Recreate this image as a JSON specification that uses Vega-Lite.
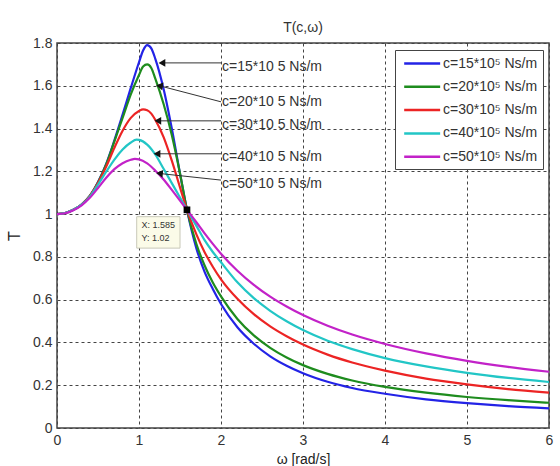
{
  "$schema": "https://vega.github.io/schema/vega-lite/v6.json",
  "width": 492,
  "height": 385,
  "autosize": {"type": "none"},
  "padding": {"left": 57, "top": 43, "right": 11, "bottom": 38},
  "background": "white",
  "title": {"text": "T(c,ω)", "fontSize": 14, "fontWeight": "normal", "color": "#333", "offset": 1, "font": "Liberation Sans"},
  "config": {
    "font": "Liberation Sans",
    "view": {"stroke": "#444", "strokeWidth": 1.5},
    "axis": {
      "domain": false,
      "tickSize": 0,
      "labelFontSize": 14,
      "labelColor": "#333",
      "labelPadding": 5,
      "labelFlush": false,
      "titleFontSize": 14,
      "titleFontWeight": "normal",
      "titleColor": "#222",
      "grid": true,
      "gridDash": [3, 3],
      "gridColor": "#444",
      "gridWidth": 1
    }
  },
  "datasets": {
    "curves": [
      {"c": 15, "omega": 0, "T": 1.0}, {"c": 15, "omega": 0.1, "T": 1.005}, {"c": 15, "omega": 0.2, "T": 1.02}, {"c": 15, "omega": 0.3, "T": 1.045},
      {"c": 15, "omega": 0.4, "T": 1.085}, {"c": 15, "omega": 0.5, "T": 1.15}, {"c": 15, "omega": 0.6, "T": 1.235}, {"c": 15, "omega": 0.7, "T": 1.345},
      {"c": 15, "omega": 0.8, "T": 1.465}, {"c": 15, "omega": 0.9, "T": 1.59}, {"c": 15, "omega": 1.0, "T": 1.71}, {"c": 15, "omega": 1.05, "T": 1.765},
      {"c": 15, "omega": 1.1, "T": 1.79}, {"c": 15, "omega": 1.15, "T": 1.775}, {"c": 15, "omega": 1.2, "T": 1.725}, {"c": 15, "omega": 1.3, "T": 1.585},
      {"c": 15, "omega": 1.4, "T": 1.4}, {"c": 15, "omega": 1.5, "T": 1.19}, {"c": 15, "omega": 1.585, "T": 1.02}, {"c": 15, "omega": 1.7, "T": 0.84},
      {"c": 15, "omega": 1.8, "T": 0.73}, {"c": 15, "omega": 1.9, "T": 0.65}, {"c": 15, "omega": 2.0, "T": 0.58}, {"c": 15, "omega": 2.2, "T": 0.471},
      {"c": 15, "omega": 2.4, "T": 0.394}, {"c": 15, "omega": 2.6, "T": 0.335}, {"c": 15, "omega": 2.8, "T": 0.291}, {"c": 15, "omega": 3.0, "T": 0.256},
      {"c": 15, "omega": 3.3, "T": 0.216}, {"c": 15, "omega": 3.6, "T": 0.187}, {"c": 15, "omega": 4.0, "T": 0.16}, {"c": 15, "omega": 4.5, "T": 0.134},
      {"c": 15, "omega": 5.0, "T": 0.116}, {"c": 15, "omega": 5.5, "T": 0.102}, {"c": 15, "omega": 6.0, "T": 0.092},

      {"c": 20, "omega": 0, "T": 1.0}, {"c": 20, "omega": 0.1, "T": 1.005}, {"c": 20, "omega": 0.2, "T": 1.02}, {"c": 20, "omega": 0.3, "T": 1.045},
      {"c": 20, "omega": 0.4, "T": 1.085}, {"c": 20, "omega": 0.5, "T": 1.148}, {"c": 20, "omega": 0.6, "T": 1.232}, {"c": 20, "omega": 0.7, "T": 1.34},
      {"c": 20, "omega": 0.8, "T": 1.45}, {"c": 20, "omega": 0.9, "T": 1.56}, {"c": 20, "omega": 1.0, "T": 1.65}, {"c": 20, "omega": 1.05, "T": 1.69},
      {"c": 20, "omega": 1.1, "T": 1.7}, {"c": 20, "omega": 1.15, "T": 1.683}, {"c": 20, "omega": 1.2, "T": 1.632}, {"c": 20, "omega": 1.3, "T": 1.515},
      {"c": 20, "omega": 1.4, "T": 1.37}, {"c": 20, "omega": 1.5, "T": 1.19}, {"c": 20, "omega": 1.585, "T": 1.02}, {"c": 20, "omega": 1.7, "T": 0.86},
      {"c": 20, "omega": 1.8, "T": 0.76}, {"c": 20, "omega": 1.9, "T": 0.68}, {"c": 20, "omega": 2.0, "T": 0.615}, {"c": 20, "omega": 2.2, "T": 0.51},
      {"c": 20, "omega": 2.4, "T": 0.433}, {"c": 20, "omega": 2.6, "T": 0.375}, {"c": 20, "omega": 2.8, "T": 0.33}, {"c": 20, "omega": 3.0, "T": 0.294},
      {"c": 20, "omega": 3.3, "T": 0.253}, {"c": 20, "omega": 3.6, "T": 0.222}, {"c": 20, "omega": 4.0, "T": 0.192}, {"c": 20, "omega": 4.5, "T": 0.165},
      {"c": 20, "omega": 5.0, "T": 0.145}, {"c": 20, "omega": 5.5, "T": 0.13}, {"c": 20, "omega": 6.0, "T": 0.118},

      {"c": 30, "omega": 0, "T": 1.0}, {"c": 30, "omega": 0.1, "T": 1.005}, {"c": 30, "omega": 0.2, "T": 1.02}, {"c": 30, "omega": 0.3, "T": 1.045},
      {"c": 30, "omega": 0.4, "T": 1.084}, {"c": 30, "omega": 0.5, "T": 1.145}, {"c": 30, "omega": 0.6, "T": 1.222}, {"c": 30, "omega": 0.7, "T": 1.31},
      {"c": 30, "omega": 0.8, "T": 1.39}, {"c": 30, "omega": 0.9, "T": 1.45}, {"c": 30, "omega": 1.0, "T": 1.482}, {"c": 30, "omega": 1.05, "T": 1.49},
      {"c": 30, "omega": 1.1, "T": 1.486}, {"c": 30, "omega": 1.15, "T": 1.47}, {"c": 30, "omega": 1.2, "T": 1.44}, {"c": 30, "omega": 1.3, "T": 1.36},
      {"c": 30, "omega": 1.4, "T": 1.25}, {"c": 30, "omega": 1.5, "T": 1.125}, {"c": 30, "omega": 1.585, "T": 1.02}, {"c": 30, "omega": 1.7, "T": 0.905},
      {"c": 30, "omega": 1.8, "T": 0.822}, {"c": 30, "omega": 1.9, "T": 0.754}, {"c": 30, "omega": 2.0, "T": 0.695}, {"c": 30, "omega": 2.2, "T": 0.604},
      {"c": 30, "omega": 2.4, "T": 0.532}, {"c": 30, "omega": 2.6, "T": 0.475}, {"c": 30, "omega": 2.8, "T": 0.429}, {"c": 30, "omega": 3.0, "T": 0.39},
      {"c": 30, "omega": 3.3, "T": 0.343}, {"c": 30, "omega": 3.6, "T": 0.306}, {"c": 30, "omega": 4.0, "T": 0.268}, {"c": 30, "omega": 4.5, "T": 0.231},
      {"c": 30, "omega": 5.0, "T": 0.204}, {"c": 30, "omega": 5.5, "T": 0.182}, {"c": 30, "omega": 6.0, "T": 0.165},

      {"c": 40, "omega": 0, "T": 1.0}, {"c": 40, "omega": 0.1, "T": 1.005}, {"c": 40, "omega": 0.2, "T": 1.02}, {"c": 40, "omega": 0.3, "T": 1.044},
      {"c": 40, "omega": 0.4, "T": 1.082}, {"c": 40, "omega": 0.5, "T": 1.138}, {"c": 40, "omega": 0.6, "T": 1.198}, {"c": 40, "omega": 0.7, "T": 1.255},
      {"c": 40, "omega": 0.8, "T": 1.302}, {"c": 40, "omega": 0.9, "T": 1.335}, {"c": 40, "omega": 0.97, "T": 1.348}, {"c": 40, "omega": 1.0, "T": 1.347},
      {"c": 40, "omega": 1.1, "T": 1.325}, {"c": 40, "omega": 1.2, "T": 1.278}, {"c": 40, "omega": 1.3, "T": 1.212}, {"c": 40, "omega": 1.4, "T": 1.145},
      {"c": 40, "omega": 1.5, "T": 1.078}, {"c": 40, "omega": 1.585, "T": 1.02}, {"c": 40, "omega": 1.7, "T": 0.945}, {"c": 40, "omega": 1.8, "T": 0.878},
      {"c": 40, "omega": 1.9, "T": 0.823}, {"c": 40, "omega": 2.0, "T": 0.775}, {"c": 40, "omega": 2.2, "T": 0.681}, {"c": 40, "omega": 2.4, "T": 0.607},
      {"c": 40, "omega": 2.6, "T": 0.548}, {"c": 40, "omega": 2.8, "T": 0.499}, {"c": 40, "omega": 3.0, "T": 0.458}, {"c": 40, "omega": 3.3, "T": 0.408},
      {"c": 40, "omega": 3.6, "T": 0.369}, {"c": 40, "omega": 4.0, "T": 0.327}, {"c": 40, "omega": 4.5, "T": 0.288}, {"c": 40, "omega": 5.0, "T": 0.258},
      {"c": 40, "omega": 5.5, "T": 0.234}, {"c": 40, "omega": 6.0, "T": 0.215},

      {"c": 50, "omega": 0, "T": 1.0}, {"c": 50, "omega": 0.1, "T": 1.004}, {"c": 50, "omega": 0.2, "T": 1.018}, {"c": 50, "omega": 0.3, "T": 1.041},
      {"c": 50, "omega": 0.4, "T": 1.076}, {"c": 50, "omega": 0.5, "T": 1.122}, {"c": 50, "omega": 0.6, "T": 1.17}, {"c": 50, "omega": 0.7, "T": 1.21},
      {"c": 50, "omega": 0.8, "T": 1.238}, {"c": 50, "omega": 0.9, "T": 1.254}, {"c": 50, "omega": 0.95, "T": 1.258}, {"c": 50, "omega": 1.0, "T": 1.256},
      {"c": 50, "omega": 1.1, "T": 1.237}, {"c": 50, "omega": 1.2, "T": 1.203}, {"c": 50, "omega": 1.3, "T": 1.162}, {"c": 50, "omega": 1.4, "T": 1.113},
      {"c": 50, "omega": 1.5, "T": 1.063}, {"c": 50, "omega": 1.585, "T": 1.02}, {"c": 50, "omega": 1.7, "T": 0.962}, {"c": 50, "omega": 1.8, "T": 0.91},
      {"c": 50, "omega": 1.9, "T": 0.861}, {"c": 50, "omega": 2.0, "T": 0.815}, {"c": 50, "omega": 2.2, "T": 0.735}, {"c": 50, "omega": 2.4, "T": 0.669},
      {"c": 50, "omega": 2.6, "T": 0.614}, {"c": 50, "omega": 2.8, "T": 0.568}, {"c": 50, "omega": 3.0, "T": 0.528}, {"c": 50, "omega": 3.3, "T": 0.478},
      {"c": 50, "omega": 3.6, "T": 0.437}, {"c": 50, "omega": 4.0, "T": 0.393}, {"c": 50, "omega": 4.5, "T": 0.349}, {"c": 50, "omega": 5.0, "T": 0.314},
      {"c": 50, "omega": 5.5, "T": 0.286}, {"c": 50, "omega": 6.0, "T": 0.263}
    ],
    "notes": [
      {"c": 15, "headW": 1.28, "headT": 1.707, "endW": 2.0, "endT": 1.707, "textT": 1.69, "label": "c=15*10 5 Ns/m"},
      {"c": 20, "headW": 1.25, "headT": 1.6, "endW": 2.0, "endT": 1.525, "textT": 1.525, "label": "c=20*10 5 Ns/m"},
      {"c": 30, "headW": 1.23, "headT": 1.436, "endW": 2.0, "endT": 1.436, "textT": 1.416, "label": "c=30*10 5 Ns/m"},
      {"c": 40, "headW": 1.22, "headT": 1.282, "endW": 2.0, "endT": 1.282, "textT": 1.268, "label": "c=40*10 5 Ns/m"},
      {"c": 50, "headW": 1.25, "headT": 1.19, "endW": 2.0, "endT": 1.159, "textT": 1.143, "label": "c=50*10 5 Ns/m"}
    ],
    "tip": [
      {"omega": 1.585, "T": 1.02, "boxW": 0.972, "boxW2": 1.5, "boxT": 0.841, "boxT2": 0.988}
    ],
    "tipText": [
      {"omega": 1.03, "T": 0.949, "line": "X: 1.585"},
      {"omega": 1.03, "T": 0.889, "line": "Y: 1.02"}
    ]
  },
  "layer": [
    {
      "data": {"name": "tip"},
      "mark": {"type": "rect", "fill": "#fbfbe8", "stroke": "#c8c8b8", "strokeWidth": 1},
      "encoding": {
        "x": {"field": "boxW", "type": "quantitative", "scale": {"domain": [0, 6], "nice": false}},
        "x2": {"field": "boxW2"},
        "y": {"field": "boxT", "type": "quantitative", "scale": {"domain": [0, 1.8], "nice": false}},
        "y2": {"field": "boxT2"}
      }
    },
    {
      "data": {"name": "curves"},
      "mark": {"type": "line", "interpolate": "monotone", "strokeWidth": 2.2},
      "encoding": {
        "x": {
          "field": "omega", "type": "quantitative",
          "scale": {"domain": [0, 6], "nice": false},
          "axis": {"title": "ω  [rad/s]", "values": [0, 1, 2, 3, 4, 5, 6], "format": "~g", "titlePadding": 5}
        },
        "y": {
          "field": "T", "type": "quantitative",
          "scale": {"domain": [0, 1.8], "nice": false},
          "axis": {"title": "T", "titleFontSize": 16, "values": [0, 0.2, 0.4, 0.6, 0.8, 1, 1.2, 1.4, 1.6, 1.8], "format": "~g", "titlePadding": 10}
        },
        "color": {
          "field": "c", "type": "nominal",
          "scale": {"domain": [15, 20, 30, 40, 50], "range": ["#2323e6", "#1e8c1e", "#ec2424", "#22c6c6", "#c222c8"]},
          "legend": {
            "title": null,
            "orient": "none",
            "legendX": 338,
            "legendY": 7,
            "symbolType": "M-0.6,0H4.4",
            "symbolSize": 207,
            "symbolStrokeWidth": 2.5,
            "labelFontSize": 14,
            "labelColor": "#333",
            "labelOffset": 26,
            "labelExpr": "'c=' + datum.label + '*10⁵ Ns/m'",
            "strokeColor": "#444",
            "fillColor": "white",
            "padding": 5,
            "rowPadding": 7.3
          }
        }
      }
    },
    {
      "data": {"name": "notes"},
      "mark": {"type": "rule", "color": "#333", "strokeWidth": 1},
      "encoding": {
        "x": {"field": "headW", "type": "quantitative"},
        "x2": {"field": "endW"},
        "y": {"field": "headT", "type": "quantitative"},
        "y2": {"field": "endT"}
      }
    },
    {
      "data": {"name": "notes"},
      "transform": [{"filter": "datum.c == 15 || datum.c == 30 || datum.c == 40"}],
      "mark": {"type": "point", "shape": "triangle-left", "filled": true, "color": "#111", "size": 60, "opacity": 1},
      "encoding": {
        "x": {"field": "headW", "type": "quantitative"},
        "y": {"field": "headT", "type": "quantitative"}
      }
    },
    {
      "data": {"name": "notes"},
      "transform": [{"filter": "datum.c == 20"}],
      "mark": {"type": "point", "shape": "triangle-left", "filled": true, "color": "#111", "size": 60, "opacity": 1, "angle": 10},
      "encoding": {
        "x": {"field": "headW", "type": "quantitative"},
        "y": {"field": "headT", "type": "quantitative"}
      }
    },
    {
      "data": {"name": "notes"},
      "transform": [{"filter": "datum.c == 50"}],
      "mark": {"type": "point", "shape": "triangle-left", "filled": true, "color": "#111", "size": 60, "opacity": 1, "angle": 6},
      "encoding": {
        "x": {"field": "headW", "type": "quantitative"},
        "y": {"field": "headT", "type": "quantitative"}
      }
    },
    {
      "data": {"name": "notes"},
      "mark": {"type": "text", "align": "left", "baseline": "middle", "dx": 1, "fontSize": 14, "color": "#333"},
      "encoding": {
        "x": {"field": "endW", "type": "quantitative"},
        "y": {"field": "textT", "type": "quantitative"},
        "text": {"field": "label"}
      }
    },
    {
      "data": {"name": "tip"},
      "mark": {"type": "point", "shape": "square", "filled": true, "color": "black", "size": 45, "opacity": 1},
      "encoding": {
        "x": {"field": "omega", "type": "quantitative"},
        "y": {"field": "T", "type": "quantitative"}
      }
    },
    {
      "data": {"name": "tipText"},
      "mark": {"type": "text", "align": "left", "baseline": "middle", "fontSize": 9, "color": "#333"},
      "encoding": {
        "x": {"field": "omega", "type": "quantitative"},
        "y": {"field": "T", "type": "quantitative"},
        "text": {"field": "line"}
      }
    }
  ]
}
